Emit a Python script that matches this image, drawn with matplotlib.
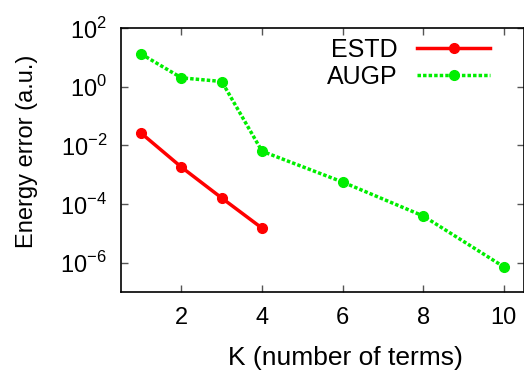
import math
import matplotlib
matplotlib.use('Agg')
import matplotlib.pyplot as plt

# values
k_estd=[1,2,3,4]
err_estd=[0.026,1.8e-3,1.6e-4,1.5e-5]
k_augp=[1,2,3,4,6,8,10]
err_augp=[13,2.0,1.5,6.3e-3,5.6e-4,3.9e-5,7.2e-7]
xticks=[2,4,6,8,10]
yticks=[1e-6,1e-4,1e-2,1e0,1e2]

plt.rcParams['font.family']=['Liberation Sans','DejaVu Sans']
plt.rcParams['mathtext.fontset']='custom'
plt.rcParams['mathtext.rm']='Liberation Sans'

fig=plt.figure(figsize=(5.24,3.70),dpi=100)
ax=fig.add_axes([121/524,1-292/370,(524-121)/524,(292-28)/370])

ax.plot(k_estd,err_estd,color='#ff0000',lw=2.5,marker='o',ms=7,label='ESTD')
ax.plot(k_augp,err_augp,color='#00ee00',lw=2.5,ls=(0,(1,0.6)),marker='o',ms=7,label='AUGP')

ax.set_yscale('log')
ax.set_xlim(0.5,10.5)
ax.set_ylim(1e-7,1e2)
ax.set_xticks(xticks)
ax.set_xticklabels([str(t) for t in xticks])
ax.set_yticks(yticks)
ax.set_yticklabels([r'$10^{%d}$'%round(math.log10(t)) for t in yticks])
ax.minorticks_off()
ax.tick_params(direction='in',top=True,right=True,length=5,width=1,color='#555555',labelsize=17)
ax.tick_params(axis='x',pad=11)
ax.tick_params(axis='y',pad=10)
for s in ax.spines.values():
  s.set_linewidth(1.2)

ax.set_xlabel('K (number of terms)',fontsize=19,va='center')
ax.set_ylabel('Energy error (a.u.)',fontsize=17,va='center')
ax.xaxis.set_label_coords(0.558,-0.25)
ax.yaxis.set_label_coords(-0.233,0.534)

ax.legend(loc='upper right',bbox_to_anchor=(0.94,1.0),frameon=False,markerfirst=False,fontsize=18,
          handlelength=2.9,borderaxespad=0.0,labelspacing=0.1,handletextpad=0.8)

fig.savefig('out.png',dpi=100)
